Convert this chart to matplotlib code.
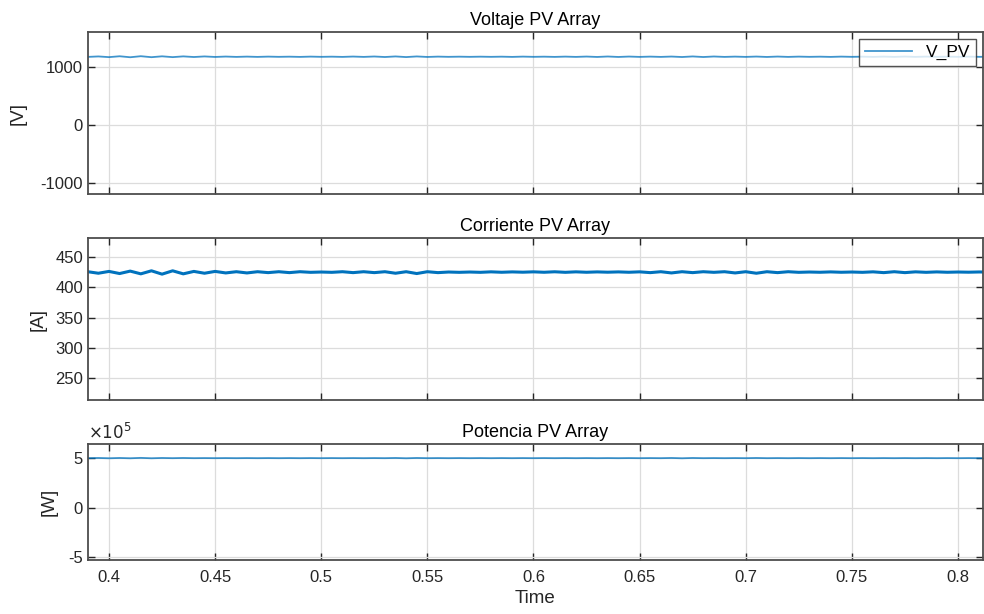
import numpy as np
import matplotlib
matplotlib.use('Agg')
import matplotlib.pyplot as plt
from matplotlib.ticker import FuncFormatter

plt.rcParams['font.family'] = ['Liberation Sans', 'DejaVu Sans']
plt.rcParams['axes.unicode_minus'] = False

# sample times, 5 ms steps (half a ripple period), 0.390 .. 0.815 s
t0 = 0.390
dt = 0.005

# PV array current [A], peaks and troughs
i_pv = [425.5, 423.0, 426.0, 422.5, 426.5, 422.0, 427.0, 421.5, 427.0, 422.0,
        426.0, 423.0, 426.0, 423.5, 425.5, 423.5, 425.5, 424.0, 425.5, 424.0,
        425.5, 424.5, 425.0, 424.5, 425.5, 424.0, 425.5, 424.0, 425.5, 423.0,
        425.5, 422.5, 425.5, 424.0, 425.0, 424.5, 425.0, 424.5, 425.3, 424.6,
        425.2, 424.7, 425.3, 424.6, 425.4, 424.5, 425.3, 424.6, 425.2, 424.7,
        425.2, 424.6, 425.3, 424.0, 425.5, 423.5, 425.5, 424.0, 425.5, 424.5,
        425.5, 423.5, 425.5, 423.0, 425.5, 424.0, 425.5, 424.5, 425.0, 424.6,
        425.2, 424.6, 425.0, 424.5, 425.3, 424.0, 425.5, 424.0, 425.3, 424.5,
        425.2, 424.6, 425.0, 424.7, 425.1, 424.8]

# PV array voltage [V]
v_pv = [1172, 1180, 1168, 1183, 1166, 1184, 1167, 1182, 1168, 1181,
        1170, 1180, 1171, 1178, 1172, 1177, 1172, 1177, 1173, 1176,
        1172, 1177, 1173, 1176, 1172, 1178, 1172, 1179, 1170, 1180,
        1169, 1180, 1171, 1177, 1173, 1176, 1173, 1176, 1173, 1176,
        1172, 1177, 1173, 1176, 1172, 1177, 1172, 1178, 1171, 1179,
        1171, 1178, 1172, 1177, 1172, 1178, 1170, 1180, 1170, 1179,
        1172, 1177, 1172, 1178, 1171, 1178, 1172, 1177, 1173, 1176,
        1172, 1177, 1173, 1176, 1172, 1177, 1172, 1178, 1172, 1177,
        1173, 1176, 1173, 1176, 1173, 1176]

# PV array power [x1e5 W]
p_pv = [4.99, 5.01, 4.98, 5.01, 4.98, 5.02, 4.98, 5.01, 4.99, 5.01,
        4.99, 5.00, 4.99, 5.00, 4.99, 5.00, 4.99, 5.00, 4.99, 5.00,
        4.99, 5.00, 4.99, 5.00, 4.99, 5.00, 4.99, 5.00, 4.99, 5.01,
        4.98, 5.01, 4.99, 5.00, 4.99, 5.00, 4.99, 5.00, 4.99, 5.00,
        4.99, 5.00, 4.99, 5.00, 4.99, 5.00, 4.99, 5.00, 4.99, 5.00,
        4.99, 5.00, 4.99, 5.00, 4.99, 5.01, 4.98, 5.01, 4.99, 5.00,
        4.99, 5.00, 4.99, 5.01, 4.99, 5.00, 4.99, 5.00, 4.99, 5.00,
        4.99, 5.00, 4.99, 5.00, 4.99, 5.00, 4.99, 5.00, 4.99, 5.00,
        4.99, 5.00, 4.99, 5.00, 4.99, 5.00]

t = t0 + dt * np.arange(len(i_pv))
p_w = np.array(p_pv) * 1e5

x_ticks = [0.4, 0.45, 0.5, 0.55, 0.6, 0.65, 0.7, 0.75, 0.8]
x_tick_labels = ['0.4', '0.45', '0.5', '0.55', '0.6', '0.65', '0.7', '0.75', '0.8']

blue = '#0072BD'
dark = '#262626'

fig = plt.figure(figsize=(9.84, 6.14), dpi=100)
ax1 = fig.add_axes([0.0894, 0.684, 0.9096, 0.2638])
ax2 = fig.add_axes([0.0894, 0.3485, 0.9096, 0.2638])
ax3 = fig.add_axes([0.0894, 0.088, 0.9096, 0.189])


def style(ax):
    ax.set_xlim(0.3901, 0.8118)
    ax.set_xticks(x_ticks)
    ax.grid(True, color='#dcdcdc', linewidth=0.9)
    ax.set_axisbelow(True)
    ax.tick_params(direction='in', length=5, width=1.0, colors=dark,
                   top=True, right=True, labelsize=12)
    ax.tick_params(axis='x', pad=7)
    for s in ax.spines.values():
        s.set_color('#4d4d4d')
        s.set_linewidth(1.3)


ax1.plot(t, v_pv, color=blue, lw=1.3, alpha=0.75, label='V_PV')
style(ax1)
ax1.set_ylim(-1190, 1600)
ax1.set_yticks([-1000, 0, 1000])
ax1.set_xticklabels([])
ax1.set_title('Voltaje PV Array', fontsize=13, color='black', pad=5)
ax1.set_ylabel('[V]', fontsize=13.5, color=dark, labelpad=10)
leg = ax1.legend(loc='upper right', fontsize=12.5, frameon=True, fancybox=False,
                 handlelength=2.7, borderpad=0.35, borderaxespad=0.4)
leg.get_frame().set_edgecolor('#262626')
leg.get_frame().set_linewidth(1.0)

ax2.plot(t, i_pv, color=blue, lw=2.2)
style(ax2)
ax2.set_ylim(214, 481)
ax2.set_yticks([250, 300, 350, 400, 450])
ax2.set_xticklabels([])
ax2.set_title('Corriente PV Array', fontsize=13, color='black', pad=5)
ax2.set_ylabel('[A]', fontsize=13.5, color=dark, labelpad=6)

ax3.plot(t, p_w, color=blue, lw=1.3, alpha=0.75)
style(ax3)
ax3.set_ylim(-5.3e5, 6.43e5)
ax3.set_yticks([-5e5, 0, 5e5])
ax3.yaxis.set_major_formatter(FuncFormatter(lambda v, pos: f'{v / 1e5:g}'))
ax3.text(0.0, 1.015, r'$\times 10^{5}$', transform=ax3.transAxes,
         fontsize=12, color=dark, ha='left', va='bottom')
ax3.set_xticklabels(x_tick_labels)
ax3.set_title('Potencia PV Array', fontsize=13, color='black', pad=5)
ax3.set_ylabel('[W]', fontsize=13.5, color=dark, labelpad=8)
ax3.set_xlabel('Time', fontsize=13.5, color=dark, labelpad=4)

fig.savefig('out.png', dpi=100)
